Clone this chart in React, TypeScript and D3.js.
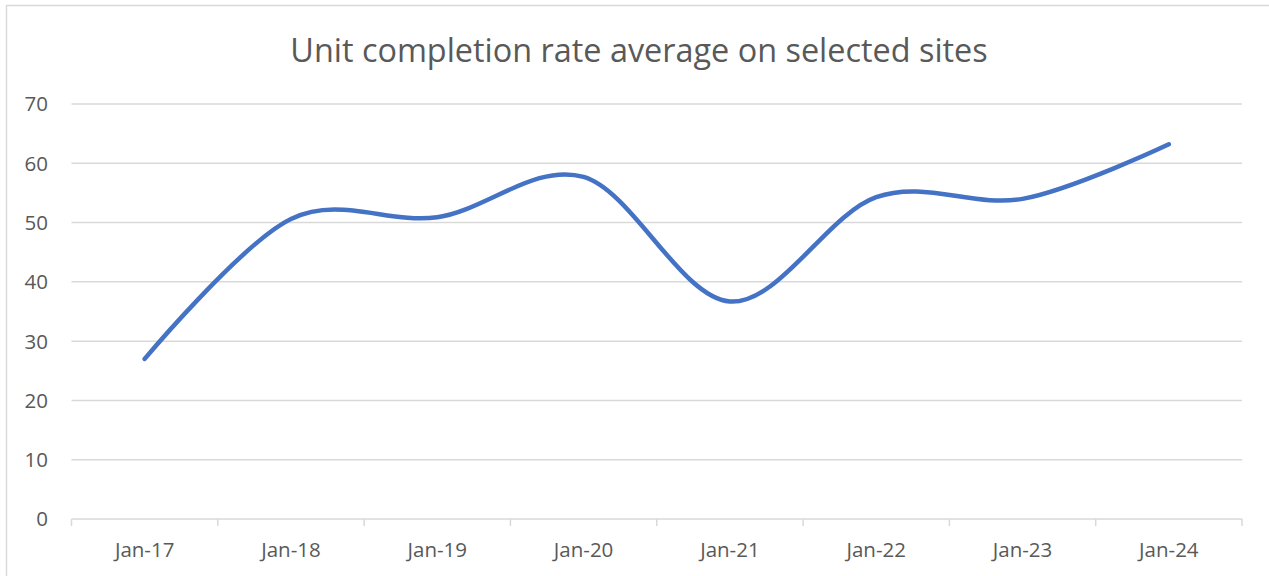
import React from "react";
import * as d3 from "d3";

const categories = ["Jan-17", "Jan-18", "Jan-19", "Jan-20", "Jan-21", "Jan-22", "Jan-23", "Jan-24"];
const values = [27, 50.6, 50.9, 57.7, 36.7, 54.3, 54.0, 63.2];
const yTicks = [0, 10, 20, 30, 40, 50, 60, 70];
const title = "Unit completion rate average on selected sites";

const W = 1269;
const H = 576;
const left = 71.5;
const right = 1242;
const top = 104;
const bottom = 519;
const font = "'Open Sans', sans-serif";
const textColor = "#595959";
const gridColor = "#d9d9d9";

export default function App() {
  const x = d3.scaleBand<string>().domain(categories).range([left, right]).paddingInner(0).paddingOuter(0);
  const y = d3.scaleLinear().domain([0, 70]).range([bottom, top]);
  const line = d3
    .line<number>()
    .x((_, i) => (x(categories[i]) as number) + x.bandwidth() / 2)
    .y((d) => y(d))
    .curve(d3.curveCardinal.tension(0));
  const boundaries = [...categories.map((c) => x(c) as number), right];

  return (
    <svg
      width={W}
      height={H}
      style={{ position: "absolute", left: 0, top: 0, background: "#fff" }}
    >
      <rect x={6.5} y={5.5} width={W + 20} height={H + 20} fill="#fff" stroke={gridColor} strokeWidth={1.5} />
      <text x={639} y={62} textAnchor="middle" fontFamily={font} fontSize={32.4} fill={textColor}>
        {title}
      </text>
      {yTicks.map((t) => (
        <g key={t}>
          <line x1={left} x2={right} y1={y(t)} y2={y(t)} stroke={gridColor} strokeWidth={1.5} />
          <text x={48} y={y(t)} dy="0.36em" textAnchor="end" fontFamily={font} fontSize={20.5} fill={textColor}>
            {t}
          </text>
        </g>
      ))}
      {boundaries.map((b, i) => (
        <line key={i} x1={b} x2={b} y1={bottom} y2={bottom + 7} stroke={gridColor} strokeWidth={1.5} />
      ))}
      {categories.map((c) => (
        <text
          key={c}
          x={(x(c) as number) + x.bandwidth() / 2}
          y={557}
          textAnchor="middle"
          fontFamily={font}
          fontSize={20.5}
          fill={textColor}
        >
          {c}
        </text>
      ))}
      <path d={line(values) || ""} fill="none" stroke="#4472C4" strokeWidth={4.5} strokeLinecap="round" strokeLinejoin="round" />
    </svg>
  );
}
